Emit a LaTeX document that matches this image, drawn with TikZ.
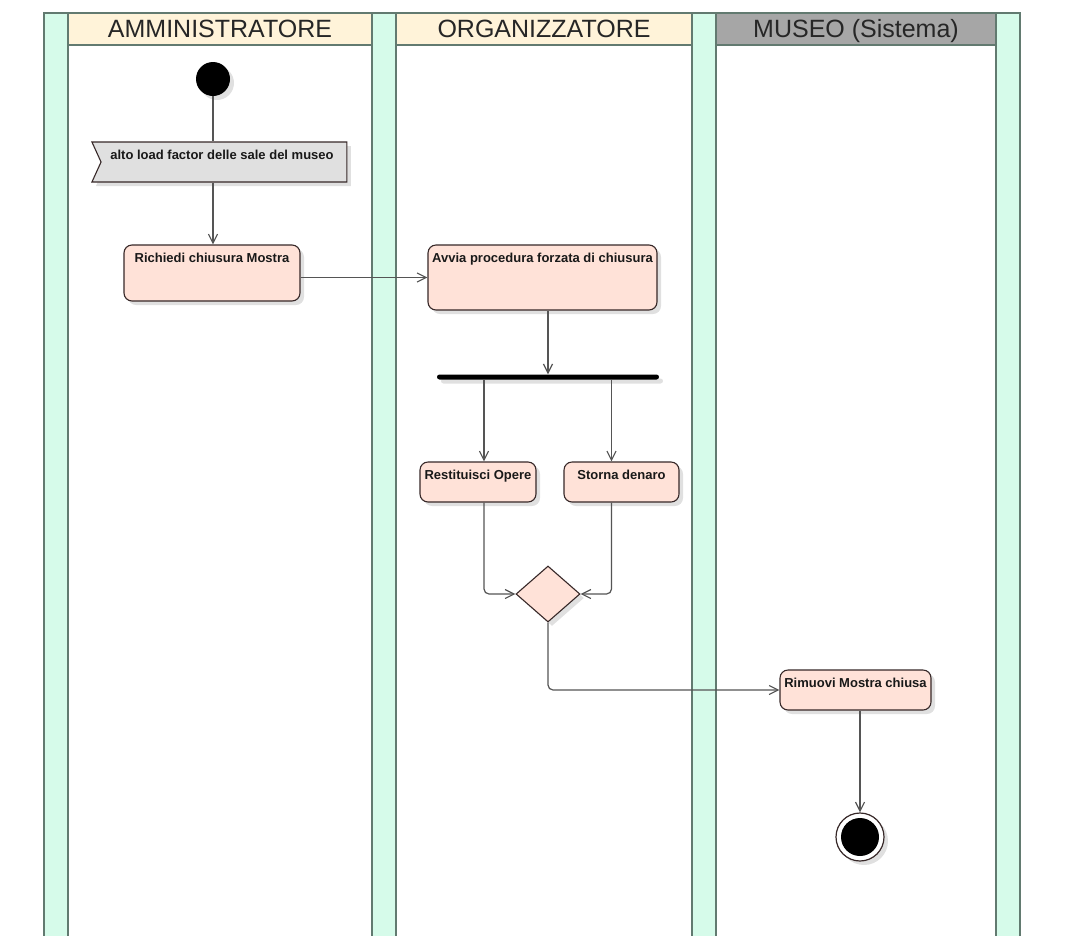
\documentclass[tikz,border=0pt]{standalone}
\usepackage{fontspec}
\setmainfont{Liberation Sans}
\usetikzlibrary{shapes.geometric,shapes.symbols,shadows,arrows.meta}

\definecolor{lanegreen}{RGB}{214,251,234}
\definecolor{lanerim}{RGB}{98,122,112}
\definecolor{headyellow}{RGB}{255,243,217}
\definecolor{headgray}{RGB}{166,166,166}
\definecolor{actpink}{RGB}{255,226,216}
\definecolor{sigrey}{RGB}{224,224,224}
\definecolor{wire}{RGB}{85,85,85}
\definecolor{rim}{RGB}{55,40,40}

\begin{document}
\begin{tikzpicture}[x=1pt, y=-1pt, >={Straight Barb[length=9pt,width=9pt]},
  softshadow/.style={drop shadow={shadow xshift=4pt, shadow yshift=-4pt, opacity=.12, fill=black}},
  lanehead/.style={draw=lanerim, line width=1.2pt, minimum height=32pt, inner sep=0pt,
    text height=17.5pt, text depth=0pt, font=\fontsize{25}{29}\selectfont, text=black!85},
  activity/.style={draw=rim, fill=actpink, rounded corners=8pt, line width=1.1pt, inner sep=0pt, softshadow},
  acttext/.style={anchor=north, yshift=-8.5pt, inner sep=0pt, font=\fontsize{13}{15}\selectfont\bfseries, text=black!90},
  flow/.style={draw=wire, line width=1.2pt, rounded corners=5pt}]
  \useasboundingbox[fill=white] (0,0) rectangle (1067,935);

  % Draw the swimlane bars
  \foreach \x in {44,372,692,996}
    \filldraw[fill=lanegreen, draw=lanerim, line width=1.2pt] (\x,945) -- (\x,13) -- (\x+24,13) -- (\x+24,945);

  % Draw the lane headers
  \node[lanehead, fill=headyellow, minimum width=304pt] (hadmin) at (220,29) {AMMINISTRATORE};
  \node[lanehead, fill=headyellow, minimum width=296pt] (horg) at (544,29) {ORGANIZZATORE};
  \node[lanehead, fill=headgray, minimum width=280pt] (hmuseo) at (856,29) {MUSEO (Sistema)};

  % Initial and final nodes
  \node[circle, fill=black, minimum size=34pt, inner sep=0pt, softshadow] (start) at (213,79) {};
  \node[circle, draw=rim, fill=white, line width=1.2pt, minimum size=48pt, inner sep=0pt, softshadow,
    path picture={\fill[black] (path picture bounding box.center) circle (19pt);}] (fine) at (860,837) {};

  % Accepted signal
  \node[signal, signal to=nowhere, signal from=west, signal pointer angle=131, draw=rim, fill=sigrey,
    line width=1.1pt, minimum width=255pt, minimum height=40pt, inner sep=0pt, softshadow,
    label={[acttext, xshift=-2pt]north:alto load factor delle sale del museo}] (signal) at (224,162) {};

  % Actions
  \node[activity, minimum width=176pt, minimum height=56pt,
    label={[acttext]north:Richiedi chiusura Mostra}] (richiedi) at (212,273) {};
  \node[activity, minimum width=229pt, minimum height=65pt,
    label={[acttext]north:Avvia procedura forzata di chiusura}] (avvia) at (542.5,277.5) {};
  \node[activity, minimum width=116pt, minimum height=40pt,
    label={[acttext]north:Restituisci Opere}] (restituisci) at (478,482) {};
  \node[activity, minimum width=115pt, minimum height=40pt,
    label={[acttext]north:Storna denaro}] (storna) at (621.5,482) {};
  \node[activity, minimum width=151pt, minimum height=40pt,
    label={[acttext]north:Rimuovi Mostra chiusa}] (rimuovi) at (855.5,690) {};

  % Fork bar and merge diamond
  \node[fill=black, minimum width=222pt, minimum height=5pt, inner sep=0pt, rounded corners=2.5pt, softshadow] (fork) at (548,377) {};
  \node[diamond, draw=rim, fill=actpink, line width=1.1pt, minimum width=64pt, minimum height=56pt, inner sep=0pt, softshadow] (merge) at (548,594) {};

  % Control flows
  \draw[flow] (start) -- (start |- signal.north);
  \draw[flow,->] (start |- signal.south) -- (start |- richiedi.north);
  \draw[flow,->] (richiedi.east |- avvia.west) -- (avvia.west);
  \draw[flow,->] (avvia.south -| fork.north) -- (fork.north);
  \draw[flow,->] ([xshift=6pt]restituisci.north |- fork.south) -- ([xshift=6pt]restituisci.north);
  \draw[flow,->] ([xshift=-10pt]storna.north |- fork.south) -- ([xshift=-10pt]storna.north);
  \draw[flow,->] ([xshift=6pt]restituisci.south) |- (merge.west);
  \draw[flow,->] ([xshift=-10pt]storna.south) |- (merge.east);
  \draw[flow,->] (merge.south) |- (rimuovi.west);
  \draw[flow,->] (rimuovi.south -| fine.north) -- (fine.north);
\end{tikzpicture}
\end{document}
